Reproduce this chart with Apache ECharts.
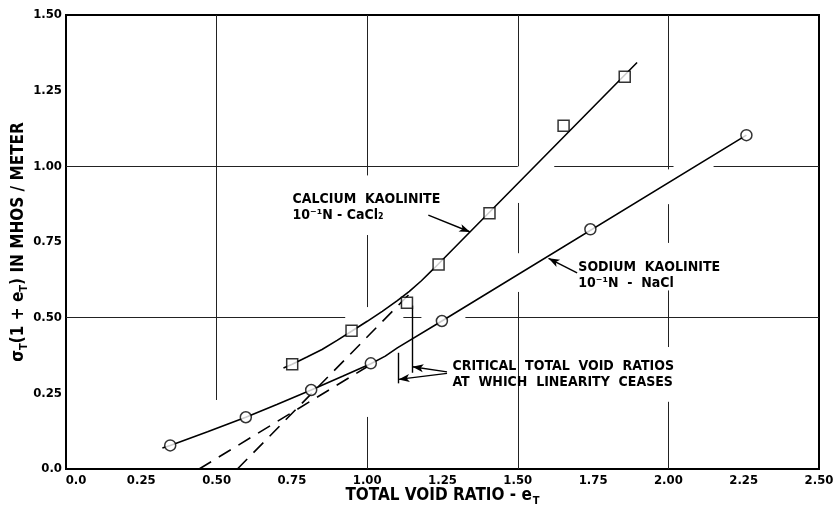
<!DOCTYPE html>
<html>
<head>
<meta charset="utf-8">
<script src="https://cdn.jsdelivr.net/npm/echarts@6/dist/echarts.min.js"></script>
<style>
html,body{margin:0;padding:0;background:#fff;}
#chart{width:837px;height:507px;}
</style>
</head>
<body>
<div id="chart"></div>
<script>
// ---- data ----
const xTickLabels = ['0.0','0.25','0.50','0.75','1.00','1.25','1.50','1.75','2.00','2.25','2.50'];
const yTickLabels = ['0.0','0.25','0.50','0.75','1.00','1.25','1.50'];

// Calcium kaolinite, 10^-1 N CaCl2 (squares)
const caX = [0.751, 0.948, 1.132, 1.237, 1.406, 1.652, 1.855];
const caY = [0.346, 0.457, 0.549, 0.676, 0.845, 1.134, 1.296];
// hand-drawn fitted curve through the calcium points
const caCurveX = [0.722, 0.751, 0.80, 0.85, 0.90, 0.948, 1.00, 1.05, 1.10, 1.14, 1.18, 1.22, 1.896];
const caCurveY = [0.334, 0.346, 0.370, 0.395, 0.425, 0.455, 0.488, 0.521, 0.556, 0.587, 0.622, 0.661, 1.343];
// linear extrapolation (dashed)
const caDashX = [0.569, 1.143];
const caDashY = [0.0, 0.581];

// Sodium kaolinite, 10^-1 N NaCl (circles)
const naX = [0.346, 0.597, 0.814, 1.012, 1.248, 1.741, 2.259];
const naY = [0.078, 0.171, 0.261, 0.349, 0.489, 0.792, 1.103];
const naCurveX = [0.32, 0.346, 0.47, 0.597, 0.70, 0.814, 0.92, 1.012, 1.06, 1.10, 1.248, 2.259];
const naCurveY = [0.069, 0.078, 0.123, 0.171, 0.213, 0.261, 0.307, 0.348, 0.373, 0.400, 0.489, 1.103];
const naDashX = [0.442, 1.0];
const naDashY = [0.0, 0.338];

// critical total void ratios
const criticalX = [1.104, 1.150];

const pairs = (xs, ys) => xs.map((x, i) => [x, ys[i]]);

// ---- decoration (broken grid lines, as in the original drawing) ----
const gridSegments = [
  [0.5,0.228,0.5,1.5],
  [1,0.97,1,1.5],[1,0.535,1,0.773],[1,0,1,0.172],
  [1.5,1.0,1.5,1.5],[1.5,0.713,1.5,0.879],[1.5,0,1.5,0.585],
  [2,0.99,2,1.5],[2,0.747,2,0.875],[2,0.403,2,0.59],[2,0,2,0.222],
  [0,1,1.5,1],[1.621,1,2.017,1],[2.15,1,2.5,1],
  [0,0.5,0.927,0.5],[1.12,0.5,1.18,0.5],[1.326,0.5,2.5,0.5]
];

const FONT = "'DejaVu Sans Condensed', 'DejaVu Sans'";
const chart = echarts.init(document.getElementById('chart'), null, {renderer:'canvas'});

const option = {
  backgroundColor: '#fff',
  animation: false,
  grid: {left: 66, right: 18, top: 15, bottom: 38, show: true, borderColor: '#000', borderWidth: 2,
         containLabel: false, outerBoundsMode: 'none'},
  xAxis: {
    type: 'value', min: 0, max: 2.5, interval: 0.25,
    name: '{n|TOTAL VOID RATIO - e}{s|T}',
    nameLocation: 'middle', nameGap: 18, nameMoveOverlap: false,
    nameTextStyle: {
      rich: {
        n: {fontFamily: FONT, fontSize: 17, fontWeight: 'bold', color: '#000', lineHeight: 20, verticalAlign: 'top'},
        s: {fontFamily: FONT, fontSize: 11, fontWeight: 'bold', color: '#000', lineHeight: 20, verticalAlign: 'bottom', padding:[6,0,0,1]}
      }
    },
    axisLine: {show: true, lineStyle: {color: '#000', width: 2}},
    axisTick: {show: false},
    splitLine: {show: false},
    axisLabel: {
      margin: 5, color: '#000', fontFamily: FONT, fontSize: 13, fontWeight: 'bold',
      showMinLabel: true, showMaxLabel: true, hideOverlap: false,
      formatter: function (v) {
        const k = Math.round(v / 0.25);
        const t = xTickLabels[k];
        return k === 0 ? '{z|' + t + '}' : t;
      },
      rich: {z: {fontFamily: FONT, fontSize: 13, fontWeight: 'bold', color: '#000', padding: [0, 0, 0, 20]}}
    }
  },
  yAxis: {
    type: 'value', min: 0, max: 1.5, interval: 0.25,
    name: '{n|σ}{s|T}{n|(1 + e}{s|T}{n|) IN MHOS / METER}',
    nameLocation: 'middle', nameGap: 36, nameMoveOverlap: false,
    nameTextStyle: {
      rich: {
        n: {fontFamily: FONT, fontSize: 17, fontWeight: 'bold', color: '#000', lineHeight: 22},
        s: {fontFamily: FONT, fontSize: 11, fontWeight: 'bold', color: '#000', lineHeight: 22, verticalAlign: 'bottom'}
      }
    },
    axisLine: {show: true, lineStyle: {color: '#000', width: 2}},
    axisTick: {show: false},
    splitLine: {show: false},
    axisLabel: {
      margin: 4, color: '#000', fontFamily: FONT, fontSize: 13, fontWeight: 'bold',
      showMinLabel: true, showMaxLabel: true, hideOverlap: false,
      formatter: function (v) { return yTickLabels[Math.round(v / 0.25)]; }
    }
  },
  series: [
    {
      name: 'grid', type: 'line', data: [], z: 1, silent: true,
      markLine: {
        silent: true, symbol: 'none', animation: false,
        label: {show: false},
        lineStyle: {color: '#222', width: 1, type: 'solid'},
        data: gridSegments.map(s => [{coord: [s[0], s[1]]}, {coord: [s[2], s[3]]}])
      }
    },
    {
      name: 'Calcium curve', type: 'line', data: pairs(caCurveX, caCurveY),
      showSymbol: false, smooth: false, z: 3,
      lineStyle: {color: '#000', width: 1.6}
    },
    {
      name: 'Sodium curve', type: 'line', data: pairs(naCurveX, naCurveY),
      showSymbol: false, smooth: false, z: 3,
      lineStyle: {color: '#000', width: 1.6}
    },
    {
      name: 'Calcium extrapolation', type: 'line', data: pairs(caDashX, caDashY),
      showSymbol: false, z: 3,
      lineStyle: {color: '#000', width: 1.6, type: [14, 9]}
    },
    {
      name: 'Sodium extrapolation', type: 'line', data: pairs(naDashX, naDashY),
      showSymbol: false, z: 3,
      lineStyle: {color: '#000', width: 1.6, type: [14, 9]}
    },
    {
      name: 'Calcium kaolinite', type: 'scatter', data: pairs(caX, caY),
      symbol: 'rect', symbolSize: 11, z: 5,
      itemStyle: {color: '#fff', borderColor: '#000', borderWidth: 1.5}
    },
    {
      name: 'Sodium kaolinite', type: 'scatter', data: pairs(naX, naY),
      symbol: 'circle', symbolSize: 11, z: 5,
      itemStyle: {color: '#fff', borderColor: '#000', borderWidth: 1.5}
    },
    {
      name: 'annotations', type: 'line', data: [], z: 4, silent: true,
      markLine: {
        silent: true, animation: false,
        label: {show: false},
        symbol: ['none', 'none'],
        lineStyle: {color: '#000', width: 1.4, type: 'solid'},
        data: [
          // critical void ratio markers
          [{coord: [criticalX[0], 0.384]}, {coord: [criticalX[0], 0.283]}],
          [{coord: [criticalX[1], 0.540]}, {coord: [criticalX[1], 0.318]}],
          // arrows
          [{coord: [1.203, 0.839], symbol: 'none'}, {coord: [1.342, 0.783], symbol: 'arrow', symbolSize: [6, 11]}],
          [{coord: [1.697, 0.648], symbol: 'none', lineStyle: {curveness: -0.35}}, {coord: [1.602, 0.696], symbol: 'arrow', symbolSize: [6, 11]}],
          [{coord: [1.265, 0.321], symbol: 'none'}, {coord: [criticalX[1], 0.338], symbol: 'arrow', symbolSize: [6, 11]}],
          [{coord: [1.265, 0.316], symbol: 'none'}, {coord: [criticalX[0], 0.296], symbol: 'arrow', symbolSize: [6, 11]}]
        ]
      }
    }
  ]
};
chart.setOption(option);

// text annotations placed in data coordinates
function px(x, y) { return chart.convertToPixel({gridIndex: 0}, [x, y]); }
const textStyle = {fontFamily: FONT, fontSize: 14, fontWeight: 'bold', fill: '#000', lineHeight: 16};
const notes = [
  {at: [0.752, 0.916], text: 'CALCIUM  KAOLINITE\n10⁻¹N - CaCl₂'},
  {at: [1.701, 0.692], text: 'SODIUM  KAOLINITE\n10⁻¹N  -  NaCl'},
  {at: [1.283, 0.365], text: 'CRITICAL  TOTAL  VOID  RATIOS\nAT  WHICH  LINEARITY  CEASES'}
];
chart.setOption({
  graphic: notes.map(n => {
    const p = px(n.at[0], n.at[1]);
    return {
      type: 'text', x: p[0], y: p[1], z: 10, silent: true,
      style: Object.assign({text: n.text, align: 'left', verticalAlign: 'top'}, textStyle)
    };
  })
});
</script>
</body>
</html>
